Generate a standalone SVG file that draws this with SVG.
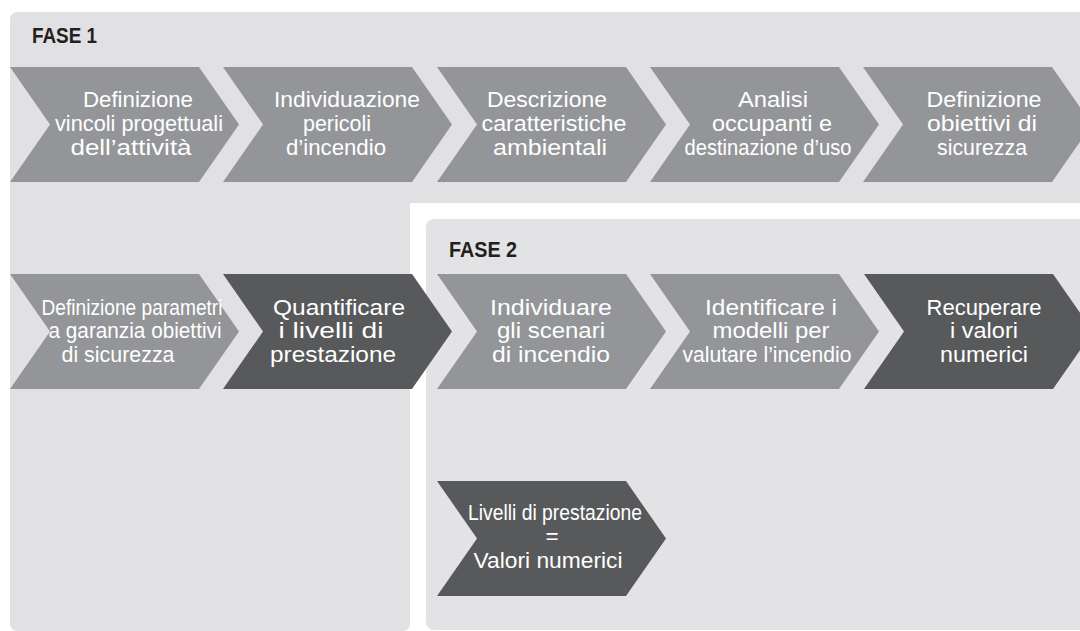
<svg xmlns="http://www.w3.org/2000/svg" width="1080" height="631" viewBox="0 0 1080 631">
<defs>
<style>
.panel{fill:#e1e1e3}
.panel2{fill:#e3e3e5}
.c{fill:#939598}
.d{fill:#58595b}
.t{font-family:"Liberation Sans",Arial,sans-serif;font-size:22.5px;fill:#ffffff;text-anchor:middle}
.h{font-family:"Liberation Sans",Arial,sans-serif;font-size:22px;font-weight:bold;fill:#231f20}
</style>
<polygon id="chev" points="0,0 189,0 229,57.5 189,115 0,115 40,57.5"/>
</defs>
<rect x="0" y="0" width="1080" height="631" fill="#ffffff"/>
<g id="fase1">
<path class="panel" d="M18,12 H1090 V203 H410 V623 Q410,631 402,631 H18 Q10,631 10,623 V20 Q10,12 18,12 Z"/>
<text class="h" x="32" y="43" textLength="65" lengthAdjust="spacingAndGlyphs">FASE 1</text>
</g>
<g id="fase2">
<rect class="panel2" x="426" y="219" width="700" height="411" rx="8" ry="8"/>
<text class="h" x="449" y="257" textLength="68" lengthAdjust="spacingAndGlyphs">FASE 2</text>
</g>
<g id="connectors"/>
<g id="n1">
<use href="#chev" class="c" x="10" y="67"/>
<text class="t" x="138" y="107" textLength="110" lengthAdjust="spacingAndGlyphs">Definizione</text>
<text class="t" x="139" y="131" textLength="168" lengthAdjust="spacingAndGlyphs">vincoli progettuali</text>
<text class="t" x="131" y="155" textLength="121" lengthAdjust="spacingAndGlyphs">dell’attività</text>
</g>
<g id="n2">
<use href="#chev" class="c" x="223" y="67"/>
<text class="t" x="347" y="107" textLength="146" lengthAdjust="spacingAndGlyphs">Individuazione</text>
<text class="t" x="337" y="131" textLength="68" lengthAdjust="spacingAndGlyphs">pericoli</text>
<text class="t" x="336" y="155" textLength="100" lengthAdjust="spacingAndGlyphs">d’incendio</text>
</g>
<g id="n3">
<use href="#chev" class="c" x="437" y="67"/>
<text class="t" x="547" y="107" textLength="120" lengthAdjust="spacingAndGlyphs">Descrizione</text>
<text class="t" x="554" y="131" textLength="145" lengthAdjust="spacingAndGlyphs">caratteristiche</text>
<text class="t" x="550" y="155" textLength="114" lengthAdjust="spacingAndGlyphs">ambientali</text>
</g>
<g id="n4">
<use href="#chev" class="c" x="650" y="67"/>
<text class="t" x="773" y="107" textLength="70" lengthAdjust="spacingAndGlyphs">Analisi</text>
<text class="t" x="772" y="131" textLength="120" lengthAdjust="spacingAndGlyphs">occupanti e</text>
<text class="t" x="768" y="155" textLength="167" lengthAdjust="spacingAndGlyphs">destinazione d’uso</text>
</g>
<g id="n5">
<use href="#chev" class="c" x="863" y="67"/>
<text class="t" x="984" y="107" textLength="115" lengthAdjust="spacingAndGlyphs">Definizione</text>
<text class="t" x="982" y="131" textLength="110" lengthAdjust="spacingAndGlyphs">obiettivi di</text>
<text class="t" x="982" y="155" textLength="90" lengthAdjust="spacingAndGlyphs">sicurezza</text>
</g>
<g id="n6">
<use href="#chev" class="c" x="10" y="274"/>
<text class="t" x="132" y="315" textLength="181" lengthAdjust="spacingAndGlyphs">Definizione parametri</text>
<text class="t" x="135" y="338" textLength="173" lengthAdjust="spacingAndGlyphs">a garanzia obiettivi</text>
<text class="t" x="118" y="362" textLength="113" lengthAdjust="spacingAndGlyphs">di sicurezza</text>
</g>
<g id="n7">
<use href="#chev" class="d" x="223" y="274"/>
<text class="t" x="339" y="315" textLength="132" lengthAdjust="spacingAndGlyphs">Quantificare</text>
<text class="t" x="331" y="338" textLength="105" lengthAdjust="spacingAndGlyphs">i livelli di</text>
<text class="t" x="333" y="362" textLength="126" lengthAdjust="spacingAndGlyphs">prestazione</text>
</g>
<g id="n8">
<use href="#chev" class="c" x="437" y="274"/>
<text class="t" x="551" y="315" textLength="122" lengthAdjust="spacingAndGlyphs">Individuare</text>
<text class="t" x="551" y="338" textLength="108" lengthAdjust="spacingAndGlyphs">gli scenari</text>
<text class="t" x="551" y="362" textLength="118" lengthAdjust="spacingAndGlyphs">di incendio</text>
</g>
<g id="n9">
<use href="#chev" class="c" x="650" y="274"/>
<text class="t" x="771" y="315" textLength="132" lengthAdjust="spacingAndGlyphs">Identificare i</text>
<text class="t" x="771" y="338" textLength="117" lengthAdjust="spacingAndGlyphs">modelli per</text>
<text class="t" x="767" y="362" textLength="169" lengthAdjust="spacingAndGlyphs">valutare l’incendio</text>
</g>
<g id="n10">
<use href="#chev" class="d" x="864" y="274"/>
<text class="t" x="984" y="315" textLength="115" lengthAdjust="spacingAndGlyphs">Recuperare</text>
<text class="t" x="984" y="338" textLength="68" lengthAdjust="spacingAndGlyphs">i valori</text>
<text class="t" x="984" y="362" textLength="88" lengthAdjust="spacingAndGlyphs">numerici</text>
</g>
<g id="n11">
<use href="#chev" class="d" x="437" y="481"/>
<text class="t" x="555" y="520" textLength="174" lengthAdjust="spacingAndGlyphs">Livelli di prestazione</text>
<text class="t" x="552" y="544">=</text>
<text class="t" x="548" y="568" textLength="149" lengthAdjust="spacingAndGlyphs">Valori numerici</text>
</g>
</svg>
